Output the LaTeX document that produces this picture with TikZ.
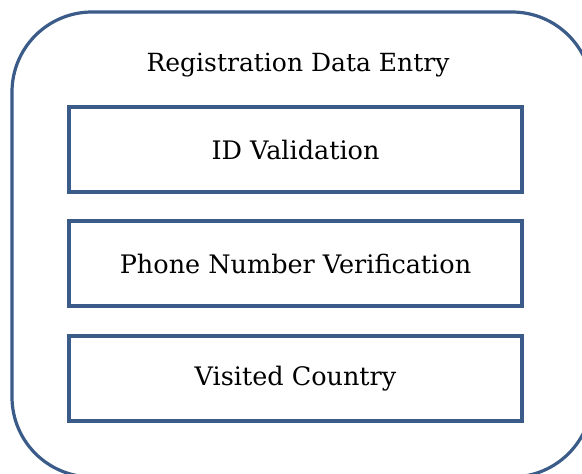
\documentclass[tikz,border=0pt]{standalone}
\usepackage{fontspec}
\setmainfont{DejaVu Serif}
\definecolor{frame}{HTML}{3B5B88}
\begin{document}
\begin{tikzpicture}[x=1pt,y=-1pt,
  panel/.style={draw=frame,line width=3.2pt,rounded corners=80pt},
  itembox/.style={draw=frame,line width=3.2pt,minimum width=453pt,minimum height=85pt,
    inner sep=0pt,font=\fontsize{25.5}{30}\selectfont},
  caption/.style={font=\fontsize{25}{30}\selectfont,inner sep=0pt}]
\useasboundingbox (0,0) rectangle (582,474);
\clip (0,0) rectangle (582,474);
% outer container, running off the right and bottom edges
\draw[panel] (12,12) rectangle (592,477);
\node[caption,anchor=base] (title) at (298,71) {Registration Data Entry};
% the three stacked steps
\node[itembox] (id) at (295.5,149.5) {ID Validation};
\node[itembox] (phone) at (295.5,263.5) {Phone Number Verification};
\node[itembox] (country) at (295.5,378.5) {Visited Country};
\end{tikzpicture}
\end{document}
